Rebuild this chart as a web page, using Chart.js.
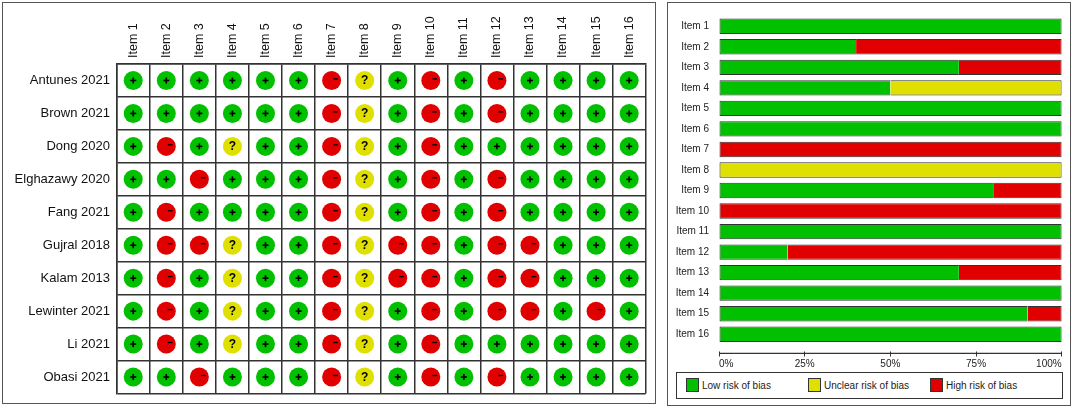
<!DOCTYPE html>
<html><head><meta charset="utf-8">
<script src="https://cdn.jsdelivr.net/npm/chart.js@4.4.1/dist/chart.umd.min.js"></script>
<style>
html,body{margin:0;padding:0;background:#fff;width:1072px;height:408px;overflow:hidden;font-family:"Liberation Sans",Arial,sans-serif;}
.panel{position:absolute;box-sizing:border-box;border:1.5px solid #555;}
#leftPanel{left:2px;top:2px;width:654px;height:402px;}
#rightPanel{left:667px;top:2px;width:404px;height:404px;}
canvas{position:absolute;}
#cL{left:0;top:0;}
#cR{left:670px;top:0;}
#legend{position:absolute;left:676px;top:371.5px;width:387px;height:27px;box-sizing:border-box;border:1px solid #333;}
.li{position:absolute;top:0;height:100%;}
.sw{position:absolute;left:0;top:5.5px;width:12.7px;height:14px;box-sizing:border-box;border:1px solid #333;}
.lt{position:absolute;left:16px;top:7px;font-size:10px;line-height:12px;color:#222;white-space:nowrap;}
</style></head>
<body>
<div class="panel" id="leftPanel"></div>
<div class="panel" id="rightPanel"></div>
<canvas id="cL" width="660" height="408" style="width:660px;height:408px"></canvas>
<canvas id="cR" width="398" height="370" style="width:398px;height:370px"></canvas>
<div id="legend"></div>
<script>
// ---------- DATA ----------
const items = ['Item 1','Item 2','Item 3','Item 4','Item 5','Item 6','Item 7','Item 8',
               'Item 9','Item 10','Item 11','Item 12','Item 13','Item 14','Item 15','Item 16'];
const studies = ['Antunes 2021','Brown 2021','Dong 2020','Elghazawy 2020','Fang 2021',
                 'Gujral 2018','Kalam 2013','Lewinter 2021','Li 2021','Obasi 2021'];
// judgements per study, items 1..16  ('+' low, '?' unclear, '-' high)
const antunes2021   = ['+','+','+','+','+','+','-','?','+','-','+','-','+','+','+','+'];
const brown2021     = ['+','+','+','+','+','+','-','?','+','-','+','-','+','+','+','+'];
const dong2020      = ['+','-','+','?','+','+','-','?','+','-','+','+','+','+','+','+'];
const elghazawy2020 = ['+','+','-','+','+','+','-','?','+','-','+','-','+','+','+','+'];
const fang2021      = ['+','-','+','+','+','+','-','?','+','-','+','-','+','+','+','+'];
const gujral2018    = ['+','-','-','?','+','+','-','?','-','-','+','-','-','+','+','+'];
const kalam2013     = ['+','-','+','?','+','+','-','?','-','-','+','-','-','+','+','+'];
const lewinter2021  = ['+','-','+','?','+','+','-','?','+','-','+','-','-','+','-','+'];
const li2021        = ['+','-','+','?','+','+','-','?','+','-','+','+','+','+','+','+'];
const obasi2021     = ['+','+','-','+','+','+','-','?','+','-','+','-','+','+','+','+'];
const studyJudgements = [antunes2021, brown2021, dong2020, elghazawy2020, fang2021,
                         gujral2018, kalam2013, lewinter2021, li2021, obasi2021];
const judgementCodes = ['+','?','-'];
const seriesNames = ['Low risk of bias','Unclear risk of bias','High risk of bias'];
// percentage of studies per item
const lowPct     = [100,40,70,50,100,100,0,0,80,0,100,20,70,100,90,100];
const unclearPct = [0,0,0,50,0,0,0,100,0,0,0,0,0,0,0,0];
const highPct    = [0,60,30,0,0,0,100,0,20,100,0,80,30,0,10,0];
const pctTickLabels = ['0%','25%','50%','75%','100%'];

// ---------- STYLE ----------
const seriesColors = ['#00C000','#E0E000','#E00000'];
const FONT = '"Liberation Sans", Arial, sans-serif';

// ---------- LEFT: traffic-light plot ----------
const symbolPlugin = {
  id: 'symbols',
  afterDatasetsDraw(chart) {
    const ctx = chart.ctx;
    chart.data.datasets.forEach((ds, di) => {
      const meta = chart.getDatasetMeta(di);
      meta.data.forEach(pt => {
        const x = pt.x, y = pt.y;
        ctx.save();
        ctx.fillStyle = '#000';
        if (ds.code === '+') {
          ctx.fillRect(x - 3, y - 0.8, 6, 1.6);
          ctx.fillRect(x - 0.8, y - 3, 1.6, 6);
        } else if (ds.code === '-') {
          ctx.fillRect(x + 1.5, y - 2.2, 4.8, 1.3);
        } else {
          ctx.font = 'bold 12px ' + FONT;
          ctx.textAlign = 'center';
          ctx.textBaseline = 'middle';
          ctx.fillText('?', x, y + 0.5);
        }
        ctx.restore();
      });
    });
  }
};

const leftDatasets = judgementCodes.map((code, k) => {
  const pts = [];
  studyJudgements.forEach((row, si) => {
    row.forEach((j, ii) => { if (j === code) pts.push({x: items[ii], y: studies[si]}); });
  });
  return {
    label: seriesNames[k], code: code, data: pts,
    backgroundColor: seriesColors[k], borderWidth: 0,
    pointRadius: 9.5, pointHoverRadius: 9.5, pointBorderWidth: 0
  };
});

new Chart(document.getElementById('cL'), {
  type: 'scatter',
  data: { datasets: leftDatasets },
  options: {
    responsive: false, animation: false, events: [],
    layout: { padding: { left: 0, top: 0, right: 14.3, bottom: 14 } },
    plugins: { legend: { display: false }, tooltip: { enabled: false } },
    scales: {
      x: {
        type: 'category', labels: items, position: 'top', offset: true,
        grid: { offset: true, color: '#333', lineWidth: 1.5, drawTicks: false },
        border: { color: '#333', width: 1.5 },
        ticks: { minRotation: 90, maxRotation: 90, autoSkip: false, padding: 6, labelOffset: 15,
                 font: { size: 12.5, family: FONT }, color: '#111' },
        afterFit: s => { s.height = 64; }
      },
      y: {
        type: 'category', labels: studies, offset: true,
        grid: { offset: true, color: '#333', lineWidth: 1.5, drawTicks: false },
        border: { color: '#333', width: 1.5 },
        ticks: { autoSkip: false, padding: 6.7, font: { size: 13, family: FONT }, color: '#111' },
        afterFit: s => { s.width = 116.7; }
      }
    }
  },
  plugins: [symbolPlugin]
});

// ---------- RIGHT: stacked summary bars ----------
const seriesValues = [lowPct, unclearPct, highPct];
function skipEdge(ctx) {
  const j = ctx.dataIndex, i = ctx.datasetIndex;
  const nz = seriesValues.map((a, k) => a[j] > 0 ? k : -1).filter(k => k >= 0);
  if (nz.length <= 1) return false;
  if (i === nz[0]) return 'right';
  if (i === nz[nz.length - 1]) return 'left';
  return 'middle';
}
const axisLinePlugin = {
  id: 'axisLine',
  afterDraw(chart) {
    const xs = chart.scales.x, ctx = chart.ctx;
    const y = xs.top + 8.8;
    ctx.save();
    ctx.strokeStyle = '#333'; ctx.lineWidth = 1.2;
    ctx.beginPath(); ctx.moveTo(xs.left, y); ctx.lineTo(xs.right, y); ctx.stroke();
    ctx.restore();
  }
};
const htmlLegendPlugin = {
  id: 'htmlLegend',
  afterUpdate(chart) {
    const box = document.getElementById('legend');
    box.innerHTML = '';
    const lefts = [9, 131, 253];
    chart.data.datasets.forEach((ds, i) => {
      const li = document.createElement('div'); li.className = 'li'; li.style.left = lefts[i] + 'px';
      const sw = document.createElement('div'); sw.className = 'sw'; sw.style.background = ds.backgroundColor;
      const t = document.createElement('div'); t.className = 'lt'; t.textContent = ds.label;
      li.appendChild(sw); li.appendChild(t); box.appendChild(li);
    });
  }
};

new Chart(document.getElementById('cR'), {
  type: 'bar',
  data: {
    labels: items,
    datasets: seriesNames.map((n, i) => ({
      label: n, data: seriesValues[i], backgroundColor: seriesColors[i],
      borderColor: '#333', borderWidth: c => (c.raw > 0 ? 1 : 0),
      borderSkipped: skipEdge, inflateAmount: 0
    }))
  },
  options: {
    indexAxis: 'y', responsive: false, animation: false, events: [],
    layout: { padding: { left: 0, top: 9, right: 6.3, bottom: 0 } },
    plugins: { legend: { display: false }, tooltip: { enabled: false } },
    datasets: { bar: { categoryPercentage: 1, barPercentage: 0.75 } },
    scales: {
      x: {
        stacked: true, min: 0, max: 100,
        ticks: { stepSize: 25, align: 'inner', padding: 2,
                 callback: (v, idx) => pctTickLabels[idx],
                 font: { size: 10, family: FONT }, color: '#222' },
        grid: { drawOnChartArea: false, drawTicks: true, tickLength: 12,
                tickColor: '#333', tickWidth: 1, tickBorderDash: [0, 6.5, 5.5, 20] },
        border: { display: false },
        afterFit: s => { s.height = 25.5; }
      },
      y: {
        stacked: true,
        ticks: { padding: 10, autoSkip: false, font: { size: 10, family: FONT }, color: '#222' },
        grid: { display: false, drawTicks: false },
        border: { display: false },
        afterFit: s => { s.width = 49; }
      }
    }
  },
  plugins: [axisLinePlugin, htmlLegendPlugin]
});
</script>
</body></html>
